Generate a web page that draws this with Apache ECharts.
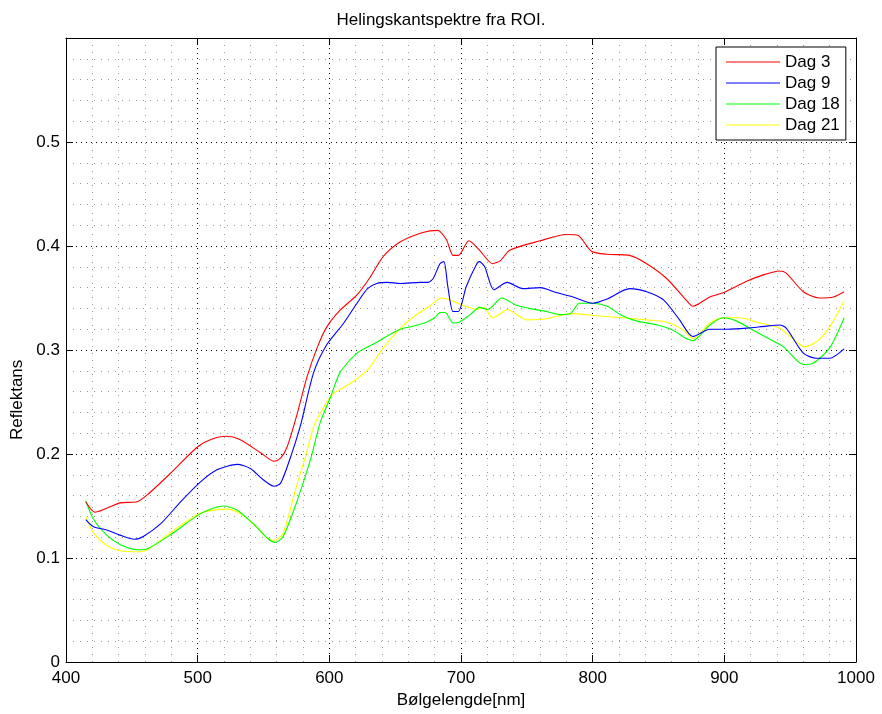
<!DOCTYPE html>
<html>
<head>
<meta charset="utf-8">
<script src="https://cdn.jsdelivr.net/npm/echarts@6/dist/echarts.min.js"></script>
<style>html,body{margin:0;padding:0;background:#fff}#c{width:882px;height:714px}</style>
</head>
<body>
<div id="c"></div>
<script>
const titleText = 'Helingskantspektre fra ROI.';
const xName = 'Bølgelengde[nm]';
const yName = 'Reflektans';
const seriesNames = ['Dag 3', 'Dag 9', 'Dag 18', 'Dag 21'];
const seriesColors = ['#ff0000', '#0000ff', '#00ff00', '#ffff00'];

const dag3X = [415,422,441,454,462,479,500,510,522,532,548,558,563,568,575,583,591,598,608,621,631,641,654,671,682,684,689,694,698,706,714,724,730,737,760,780,789,799,811,828,841,856,871,876,889,899,917,929,942,947,960,972,983,991];
const dag3Y = [0.154,0.144,0.153,0.154,0.161,0.181,0.207,0.214,0.217,0.214,0.201,0.193,0.196,0.207,0.236,0.274,0.303,0.322,0.338,0.353,0.370,0.390,0.404,0.413,0.415,0.414,0.406,0.391,0.391,0.405,0.396,0.383,0.386,0.396,0.405,0.411,0.410,0.395,0.392,0.391,0.383,0.369,0.348,0.342,0.351,0.355,0.366,0.372,0.376,0.374,0.356,0.350,0.351,0.356];

const dag9X = [415,421,431,441,452,459,472,487,502,515,530,540,550,558,563,570,578,588,598,611,621,629,636,644,654,669,675,679,684,687,690,694,698,704,712,714,718,725,735,747,760,773,785,800,811,828,841,854,866,876,889,902,917,932,942,947,960,970,980,991];
const dag9Y = [0.137,0.130,0.127,0.122,0.118,0.121,0.133,0.154,0.173,0.185,0.190,0.186,0.175,0.169,0.172,0.195,0.227,0.278,0.305,0.326,0.345,0.359,0.364,0.365,0.364,0.365,0.365,0.369,0.383,0.385,0.361,0.337,0.337,0.361,0.383,0.385,0.380,0.358,0.365,0.359,0.360,0.355,0.351,0.345,0.349,0.359,0.356,0.348,0.329,0.313,0.320,0.320,0.321,0.323,0.324,0.321,0.297,0.292,0.292,0.301];

const dag18X = [415,421,431,441,454,462,479,500,512,520,530,543,553,559,565,575,586,593,601,608,621,634,646,654,664,674,680,684,688,694,699,707,714,720,723,731,742,752,765,776,783,790,800,811,821,833,849,861,871,876,889,899,909,922,935,945,960,967,980,991];
const dag18Y = [0.155,0.137,0.122,0.113,0.108,0.109,0.122,0.141,0.148,0.150,0.146,0.132,0.119,0.115,0.121,0.153,0.196,0.230,0.255,0.278,0.297,0.306,0.315,0.320,0.323,0.327,0.331,0.336,0.336,0.326,0.327,0.334,0.341,0.339,0.341,0.350,0.343,0.340,0.337,0.334,0.335,0.345,0.345,0.342,0.334,0.328,0.324,0.319,0.311,0.309,0.324,0.331,0.328,0.319,0.310,0.303,0.286,0.287,0.302,0.331];

const dag21X = [415,421,431,441,454,462,479,500,512,522,532,543,553,558,565,575,582,588,596,603,616,629,641,654,664,677,685,694,703,712,717,724,730,735,750,765,783,803,823,841,856,869,876,889,899,912,924,942,952,961,970,980,991];
const dag21Y = [0.140,0.124,0.112,0.107,0.106,0.108,0.124,0.142,0.146,0.147,0.143,0.132,0.119,0.117,0.124,0.169,0.198,0.226,0.246,0.258,0.268,0.281,0.302,0.321,0.332,0.343,0.350,0.347,0.342,0.339,0.341,0.331,0.335,0.339,0.329,0.330,0.335,0.333,0.331,0.329,0.327,0.319,0.311,0.326,0.331,0.331,0.327,0.321,0.311,0.303,0.308,0.322,0.347];

const xTicks = [400, 500, 600, 700, 800, 900, 1000];
const yTicks = [0, 0.1, 0.2, 0.3, 0.4, 0.5];

const allX = [dag3X, dag9X, dag18X, dag21X];
const allY = [dag3Y, dag9Y, dag18Y, dag21Y];

const FONT = 'Liberation Sans, Arial, Helvetica, sans-serif';
const chart = echarts.init(document.getElementById('c'), null, {renderer: 'canvas'});

const tickStyle = {show: true, inside: true, length: 7, lineStyle: {color: '#000', width: 1}};
const majorGrid = {show: true, lineStyle: {color: '#000', width: 1, type: [1, 4]}};
const minorGrid = {show: true, lineStyle: {color: '#9a9a9a', width: 1, type: [1, 6]}};

const option = {
  animation: false,
  backgroundColor: '#fff',
  title: {
    text: titleText, left: 'center', top: 7,
    textStyle: {fontFamily: FONT, fontSize: 17, fontWeight: 'normal', color: '#000'}
  },
  grid: {left: 66, right: 26, top: 38, bottom: 52, containLabel: false},
  legend: {
    orient: 'vertical', left: 716, top: 47,
    backgroundColor: '#fff', borderColor: '#000', borderWidth: 1,
    padding: [5, 6, 5, 10], itemGap: 1, itemWidth: 54, itemHeight: 14,
    textStyle: {fontFamily: FONT, fontSize: 17, color: '#000', lineHeight: 20},
    data: seriesNames.map(n => ({name: n, icon: 'path://M0,0L54,0L54,1L0,1Z'}))
  },
  graphic: [{
    type: 'text',
    x: 9, y: 440,
    rotation: Math.PI / 2,
    style: {text: yName, fontFamily: FONT, fontSize: 17, fill: '#000'}
  }],
  xAxis: [{
    type: 'value', min: 400, max: 1000, interval: 100, position: 'bottom',
    name: xName, nameLocation: 'middle', nameGap: 21,
    nameTextStyle: {fontFamily: FONT, fontSize: 17, color: '#000'},
    axisLine: {show: true, onZero: false, lineStyle: {color: '#000', width: 1}},
    axisTick: tickStyle,
    axisLabel: {fontFamily: FONT, fontSize: 17, color: '#000', margin: 8,
      formatter: v => xTicks.includes(v) ? String(v) : ''},
    splitLine: majorGrid,
    minorTick: {show: false, splitNumber: 5},
    minorSplitLine: minorGrid
  }, {
    type: 'value', min: 400, max: 1000, interval: 100, position: 'top',
    axisLine: {show: true, onZero: false, lineStyle: {color: '#000', width: 1}},
    axisTick: tickStyle, axisLabel: {show: false}, splitLine: {show: false}
  }],
  yAxis: [{
    type: 'value', min: 0, max: 0.6, interval: 0.1, position: 'left',
    axisLine: {show: true, onZero: false, lineStyle: {color: '#000', width: 1}},
    axisTick: tickStyle,
    axisLabel: {fontFamily: FONT, fontSize: 17, color: '#000', margin: 6,
      formatter: v => {
        const r = Math.round(v * 10) / 10;
        return yTicks.includes(r) ? String(r) : '';
      }},
    splitLine: majorGrid,
    minorTick: {show: false, splitNumber: 5},
    minorSplitLine: minorGrid
  }, {
    type: 'value', min: 0, max: 0.6, interval: 0.1, position: 'right',
    axisLine: {show: true, onZero: false, lineStyle: {color: '#000', width: 1}},
    axisTick: tickStyle, axisLabel: {show: false}, splitLine: {show: false}
  }],
  series: seriesNames.map((name, i) => ({
    name: name, type: 'line', xAxisIndex: 0, yAxisIndex: 0,
    data: allX[i].map((x, j) => [x, allY[i][j]]),
    showSymbol: false, symbol: 'none', smooth: 0.25,
    lineStyle: {color: seriesColors[i], width: 1.1},
    itemStyle: {color: seriesColors[i]},
    z: 10 - i
  }))
};
chart.setOption(option);
</script>
</body>
</html>
